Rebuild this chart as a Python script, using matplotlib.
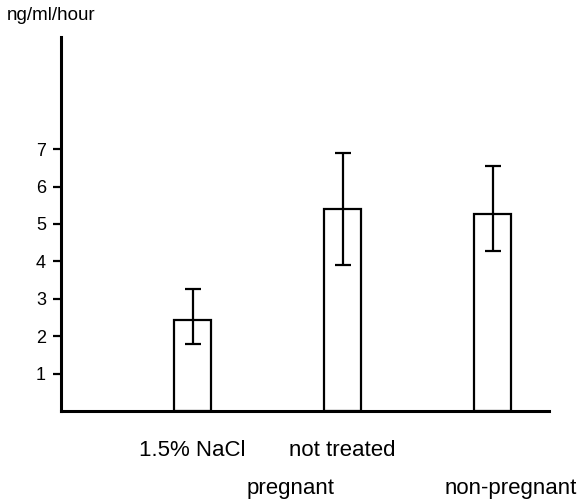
import matplotlib
matplotlib.use('Agg')
import matplotlib.pyplot as plt
import numpy as np

# данные
categories = ['1.5% NaCl', 'not treated', '']
values = [2.44, 5.39, 5.28]
err_low = [0.64, 1.48, 0.99]
err_high = [0.83, 1.50, 1.26]
groups = ['pregnant', 'non-pregnant']
group_pos = [0.65, 2.12]
y_ticks = [1, 2, 3, 4, 5, 6, 7]

plt.rcParams['font.family'] = ['Liberation Sans', 'DejaVu Sans']

fig = plt.figure(figsize=(5.88, 5.0), dpi=100)
ax = fig.add_axes([0.104, 0.178, 0.830, 0.748])

x = np.arange(len(values))
ax.bar(x, values, width=0.25, color='white', edgecolor='black', linewidth=1.6)
ax.errorbar(x, values, yerr=[err_low, err_high], fmt='none', ecolor='black',
            elinewidth=1.6, capsize=6, capthick=1.6)

ax.set_xlim(-0.877, 2.377)
ax.set_ylim(0, 10)
ax.set_yticks(y_ticks)
ax.tick_params(axis='y', labelsize=13, length=6, width=1.6, pad=5)
ax.set_xticks(x)
ax.set_xticklabels(categories, fontsize=16)
ax.tick_params(axis='x', length=0, pad=21)

for side in ['top', 'right']:
    ax.spines[side].set_visible(False)
ax.spines['left'].set_linewidth(2.2)
ax.spines['bottom'].set_linewidth(2.2)

for gx, gname in zip(group_pos, groups):
    ax.text(gx, -0.206, gname, transform=ax.get_xaxis_transform(),
            ha='center', va='center', fontsize=16)

fig.text(0.012, 0.968, 'ng/ml/hour', fontsize=13.5, ha='left', va='center')

plt.savefig('out.png', dpi=100)
